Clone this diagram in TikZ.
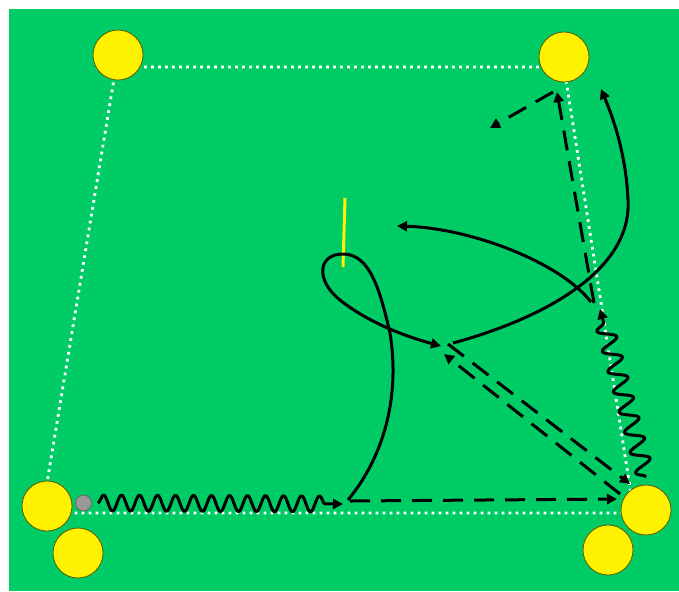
\documentclass[tikz,border=0pt]{standalone}
\usetikzlibrary{arrows.meta,decorations.pathmorphing}
\definecolor{pitchgreen}{HTML}{00CC66}
\definecolor{conerim}{HTML}{5E5A00}
\definecolor{ballgray}{HTML}{999999}

\begin{document}
\begin{tikzpicture}[x=.5pt,y=-.5pt,
  cone/.style={circle,fill=yellow,draw=conerim,thin,minimum size=25pt,inner sep=0pt},
  ball/.style={circle,fill=ballgray,draw=black!60,thin,minimum size=8pt,inner sep=0pt},
  run/.style={line width=1.5pt,line join=round,-{Triangle[length=5pt,width=5pt]}},
  pass/.style={run,dash pattern=on 10pt off 5.5pt},
  dribble/.style={run,decorate,decoration={snake,amplitude=4pt,segment length=9pt,post length=6pt}}]
\useasboundingbox (0,0) rectangle (679,591);
\path[fill=pitchgreen] (9,9) rectangle (679,591);
% pitch lines
\draw[white,line width=1.4pt,dash pattern=on 1.4pt off 2.1pt] (116,67)--(564,67)--(634,513)--(42,513)--cycle;
% cones
\foreach \n/\x/\y in {tl/118/55,tr/564/57,bl/47/506,blb/78/553,br/646/510,brb/608/550}{\node[cone] (\n) at (\x,\y) {};}
\node[ball] (ball) at (83.5,503) {};
% pole
\draw[yellow,line width=1.5pt] (345,198) -- (343,267);
\coordinate (d1) at (343,504);
\coordinate (d2) at (600,309);
\coordinate (c1) at (441,346);
\coordinate (p1) at (617,499);
% dribbles
\draw[dribble] ([xshift=3pt]ball.east) -- (d1);
\draw[dribble,decoration={amplitude=4.5pt,segment length=10.5pt}] (646,477) -- (d2);
% passes
\draw[pass] (350,501) -- (p1);
\draw[pass] (448,344) -- (630,484);
\draw[pass] (620,494) -- (444,354);
\draw[pass] (594,303) -- (557,92);
\draw[pass] (553,92) -- (490,128);
% runs
\draw[run] (348,500) .. controls (385,455) and (400,395) .. (390,333)
  .. controls (380,290) and (370,254) .. (343,254)
  .. controls (318,254) and (315,280) .. (340,300)
  .. controls (365,320) and (400,335) .. (c1);
\draw[run] (453,343) .. controls (545,318) and (632,270) .. (628,200)
  .. controls (626,155) and (614,120) .. (601,89);
\draw[run] (591,302) .. controls (560,262) and (470,228) .. (397,226);
\end{tikzpicture}
\end{document}
